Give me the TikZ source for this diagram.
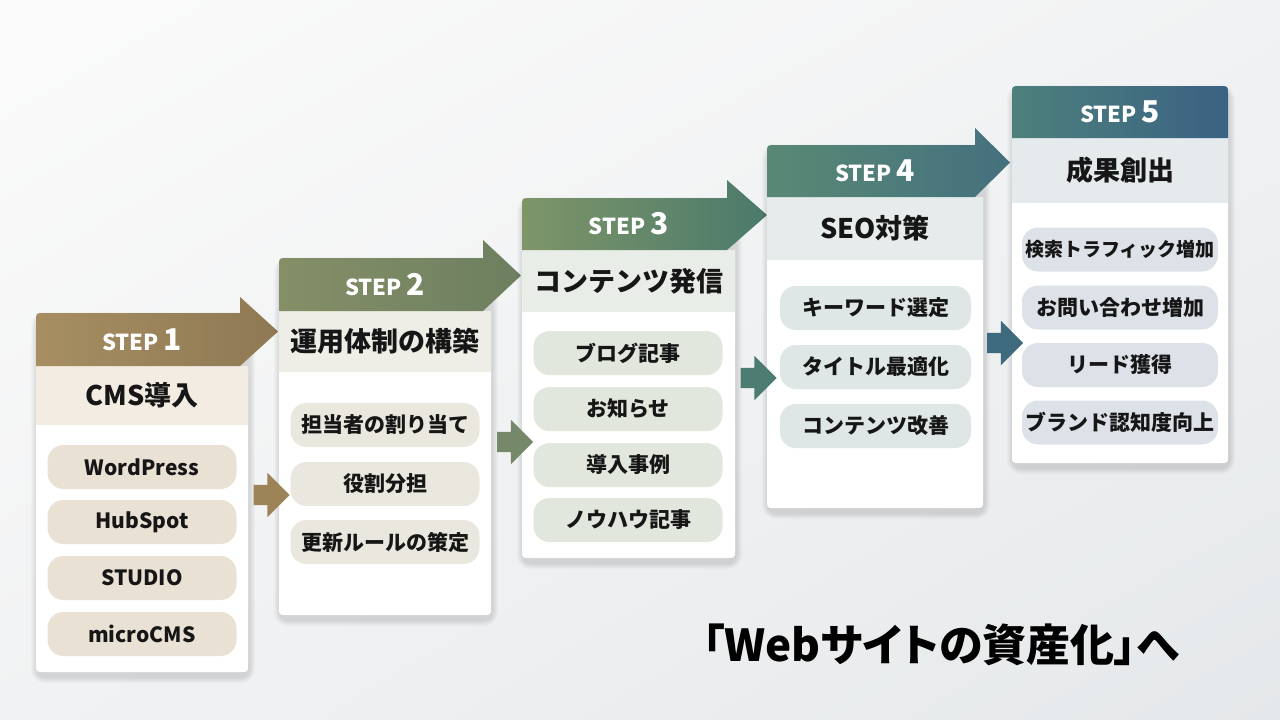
\documentclass[tikz,border=0pt]{standalone}
\usepackage{fontspec}
\setmainfont{Noto Sans CJK JP}
\newfontfamily\paltfont{Noto Sans CJK JP}[RawFeature=+palt]
\usetikzlibrary{positioning, shapes.arrows, shadings}

\definecolor{bgA}{HTML}{FBFBFB}
\definecolor{bgB}{HTML}{F1F2F3}
\definecolor{bgC}{HTML}{E5E8EA}
\definecolor{inkc}{HTML}{161616}
% header gradients
\definecolor{hd1a}{HTML}{A78E62}
\definecolor{hd1b}{HTML}{8E7954}
\definecolor{hd2a}{HTML}{848F67}
\definecolor{hd2b}{HTML}{6D7F60}
\definecolor{hd3a}{HTML}{7F9568}
\definecolor{hd3b}{HTML}{4A7A6C}
\definecolor{hd4a}{HTML}{598975}
\definecolor{hd4b}{HTML}{44707E}
\definecolor{hd5a}{HTML}{4D807C}
\definecolor{hd5b}{HTML}{3A6283}
% title bands
\definecolor{tb1}{HTML}{F3ECE3}
\definecolor{tb2}{HTML}{EEEDE6}
\definecolor{tb3}{HTML}{E9EDE7}
\definecolor{tb4}{HTML}{E6EBEB}
\definecolor{tb5}{HTML}{E5EAED}
% pills
\definecolor{pl1}{HTML}{EAE1D5}
\definecolor{pl2}{HTML}{EAE8DE}
\definecolor{pl3}{HTML}{E1E7DD}
\definecolor{pl4}{HTML}{DEE6E6}
\definecolor{pl5}{HTML}{DDE2E8}
% small arrows
\definecolor{ar1}{HTML}{9C8458}
\definecolor{ar2}{HTML}{75886A}
\definecolor{ar3}{HTML}{4D7C73}
\definecolor{ar4}{HTML}{3E6A7E}

\newcommand{\stpno}[1]{\fontsize{30}{30}\selectfont #1}

\tikzset{
  pill/.style={rounded corners=16pt, minimum height=44pt, minimum width=189pt,
    inner sep=0pt, text=inkc, font=\bfseries\fontsize{21}{21}\selectfont},
  ttl/.style={text=inkc, font=\bfseries\fontsize{27}{27}\selectfont},
  steplbl/.style={text=white, font=\bfseries\fontsize{22}{22}\selectfont},
  blockarr/.style={single arrow, minimum height=36pt, inner sep=10pt,
    single arrow head extend=12pt, draw=none}
}

\begin{document}
\begin{tikzpicture}[x=1pt,y=-1pt]
\useasboundingbox (0,0) rectangle (1280,720);
\shade[upper left=bgA, upper right=bgB, lower left=bgB, lower right=bgC] (0,0) rectangle (1280,720);

% cards 1-4 (header with arrow head)
\foreach \L/\R/\HT/\hb/\tb/\B/\AT/\TX/\n in {
    36/248/313/366/425/672/297/278/1,
    279/491/258/311/372/615/240/521/2,
    522/735/198/250/312/558/180/767/3,
    767/983/145/197/260/508/128/1010/4}{
  \foreach \k in {1,...,6}
    \fill[black, opacity=0.02, rounded corners=8+\k] (\L-\k+1,\HT-\k+5) rectangle (\R+\k+1,\B+\k+5);
  \fill[white] (\L,\hb) -- (\L,\B-8) .. controls (\L,\B) .. (\L+8,\B) -- (\R-8,\B)
    .. controls (\R,\B) .. (\R,\B-8) -- (\R,\hb) -- cycle;
  \fill[tb\n] (\L,\hb) rectangle (\R,\tb);
  \shade[left color=hd\n a, right color=hd\n b] (\L,\hb) -- (\L,\HT+8) .. controls (\L,\HT) .. (\L+8,\HT)
    -- (\R-8,\HT) -- (\R-8,\AT) -- (\TX,{(\AT+\hb)/2}) -- (\R-8,\hb) -- cycle;
}

% card 5
\foreach \k in {1,...,6}
  \fill[black, opacity=0.02, rounded corners=8+\k] (1012-\k+1,86-\k+5) rectangle (1228+\k+1,463+\k+5);
\fill[white] (1012,138) -- (1012,455) .. controls (1012,463) .. (1020,463) -- (1220,463)
  .. controls (1228,463) .. (1228,455) -- (1228,138) -- cycle;
\fill[tb5] (1012,138) rectangle (1228,203);
\shade[left color=hd5a, right color=hd5b] (1012,138) -- (1012,94) .. controls (1012,86) .. (1020,86)
  -- (1220,86) .. controls (1228,86) .. (1228,94) -- (1228,138) -- cycle;

% step labels
\node[steplbl] (s1) at (142,339.5) {STEP \stpno{1}};
\node[steplbl] (s2) at (385,284.5) {STEP \stpno{2}};
\node[steplbl] (s3) at (628.5,224) {STEP \stpno{3}};
\node[steplbl] (s4) at (875,171) {STEP \stpno{4}};
\node[steplbl] (s5) at (1120,112) {STEP \stpno{5}};

% titles
\node[ttl] (t1) at (142,395.5) {CMS導入};
\node[ttl] (t2) at (385,341.5) {運用体制の構築};
\node[ttl] (t3) at (628.5,281) {コンテンツ発信};
\node[ttl] (t4) at (875,228.5) {SEO対策};
\node[ttl] (t5) at (1120,170.5) {成果創出};

% items
\foreach \y/\t [count=\i] in {467/WordPress, 522/HubSpot, 578/STUDIO, 634/microCMS}
  \node[pill, fill=pl1] (p1\i) at (142,\y) {\t};
\foreach \y/\t [count=\i] in {425/担当者の割り当て, 484/役割分担, 542/更新ルールの策定}
  \node[pill, fill=pl2] (p2\i) at (385,\y) {\t};
\foreach \y/\t [count=\i] in {353/ブログ記事, 409/お知らせ, 465/導入事例, 520/ノウハウ記事}
  \node[pill, fill=pl3] (p3\i) at (628,\y) {\t};
\foreach \y/\t [count=\i] in {308/キーワード選定, 367/タイトル最適化, 426/コンテンツ改善}
  \node[pill, fill=pl4, minimum width=191pt] (p4\i) at (875.5,\y) {\t};
\foreach \y/\t [count=\i] in {249.5/{\fontsize{19}{19}\selectfont 検索トラフィック増加}, 307.5/お問い合わせ増加, 365/リード獲得, 422.5/ブランド認知度向上}
  \node[pill, fill=pl5, minimum width=196pt] (p5\i) at (1120,\y) {\t};

% arrows between cards
\node[blockarr, fill=ar1] (a12) at (266.5,495) {};
\node[blockarr, fill=ar2] (a23) at (510,442) {};
\node[blockarr, fill=ar3] (a34) at (753.5,378) {};
\node[blockarr, fill=ar4] (a45) at (1000,343) {};

\node[text=black, font=\paltfont\bfseries\fontsize{44}{44}\selectfont] (goal) at (941,645) {「Webサイトの資産化」へ};
\end{tikzpicture}
\end{document}
